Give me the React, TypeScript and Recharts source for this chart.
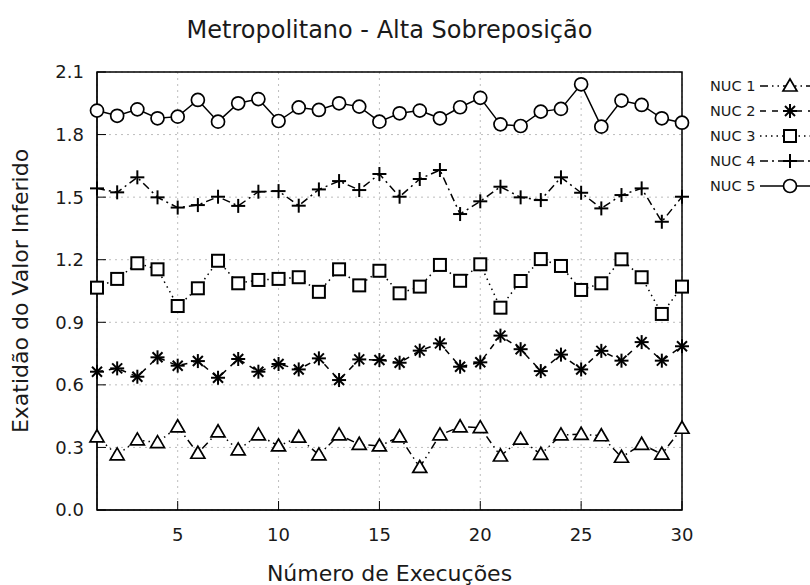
import { CartesianGrid, Label, Legend, Line, LineChart, ReferenceArea, XAxis, YAxis } from "recharts";

const runs = [1, 2, 3, 4, 5, 6, 7, 8, 9, 10, 11, 12, 13, 14, 15, 16, 17, 18, 19, 20, 21, 22, 23, 24, 25, 26, 27, 28, 29, 30];
const xTicks = [5, 10, 15, 20, 25, 30];
const yTicks = [0, 0.3, 0.6, 0.9, 1.2, 1.5, 1.8, 2.1];

const nuc1 = [0.351, 0.264, 0.336, 0.323, 0.399, 0.272, 0.375, 0.288, 0.36, 0.307, 0.349, 0.264, 0.36, 0.315, 0.307, 0.351, 0.204, 0.36, 0.399, 0.395, 0.259, 0.34, 0.267, 0.36, 0.363, 0.356, 0.253, 0.315, 0.268, 0.392];
const nuc2 = [0.663, 0.679, 0.639, 0.732, 0.692, 0.714, 0.634, 0.724, 0.663, 0.7, 0.674, 0.727, 0.623, 0.722, 0.719, 0.706, 0.764, 0.799, 0.687, 0.708, 0.836, 0.771, 0.666, 0.745, 0.674, 0.763, 0.716, 0.805, 0.716, 0.785];
const nuc3 = [1.066, 1.108, 1.183, 1.154, 0.978, 1.063, 1.195, 1.087, 1.103, 1.108, 1.116, 1.046, 1.154, 1.077, 1.147, 1.039, 1.071, 1.175, 1.099, 1.178, 0.97, 1.098, 1.203, 1.17, 1.055, 1.087, 1.202, 1.116, 0.94, 1.071];
const nuc4 = [1.542, 1.523, 1.595, 1.499, 1.45, 1.462, 1.502, 1.458, 1.526, 1.529, 1.459, 1.537, 1.577, 1.534, 1.611, 1.502, 1.587, 1.63, 1.419, 1.48, 1.55, 1.499, 1.486, 1.595, 1.521, 1.446, 1.51, 1.542, 1.382, 1.502];
const nuc5 = [1.915, 1.89, 1.921, 1.878, 1.886, 1.966, 1.862, 1.95, 1.97, 1.865, 1.93, 1.918, 1.95, 1.934, 1.862, 1.902, 1.915, 1.878, 1.931, 1.976, 1.849, 1.841, 1.91, 1.923, 2.041, 1.838, 1.963, 1.942, 1.878, 1.857];

const series = [
  { key: "nuc1", name: "NUC 1", values: nuc1, shape: "triangle", dash: "8 4 1.5 4 1.5 4" },
  { key: "nuc2", name: "NUC 2", values: nuc2, shape: "star", dash: "6 6" },
  { key: "nuc3", name: "NUC 3", values: nuc3, shape: "square", dash: "1.5 4" },
  { key: "nuc4", name: "NUC 4", values: nuc4, shape: "plus", dash: "8 4 2 4" },
  { key: "nuc5", name: "NUC 5", values: nuc5, shape: "circle", dash: undefined },
];

const rows = runs.map((run, i) => {
  const row: Record<string, number> = { run };
  series.forEach((s) => (row[s.key] = s.values[i]));
  return row;
});

const font = "'DejaVu Sans', sans-serif";
const ink = "#1a1a1a";

function Mark({ shape, cx, cy }: { shape: string; cx: number; cy: number }) {
  const open = { fill: "#fff", stroke: "#000", strokeWidth: 1.7 };
  if (shape === "triangle")
    return <polygon points={`${cx},${cy - 7} ${cx - 7},${cy + 5} ${cx + 7},${cy + 5}`} {...open} />;
  if (shape === "square") return <rect x={cx - 6} y={cy - 6} width={12} height={12} {...open} strokeWidth={2} />;
  if (shape === "circle") return <circle cx={cx} cy={cy} r={6.5} {...open} />;
  if (shape === "plus")
    return (
      <g stroke="#000" strokeWidth={2}>
        <line x1={cx - 7} y1={cy} x2={cx + 7} y2={cy} />
        <line x1={cx} y1={cy - 7} x2={cx} y2={cy + 7} />
      </g>
    );
  return (
    <g stroke="#000" strokeWidth={2}>
      <line x1={cx - 7} y1={cy} x2={cx + 7} y2={cy} />
      <line x1={cx} y1={cy - 7} x2={cx} y2={cy + 7} />
      <line x1={cx - 5} y1={cy - 5} x2={cx + 5} y2={cy + 5} />
      <line x1={cx - 5} y1={cy + 5} x2={cx + 5} y2={cy - 5} />
    </g>
  );
}

function KeyBox() {
  return (
    <svg width={110} height={125} style={{ display: "block" }}>
      {series.map((s, i) => {
        const y = 10 + i * 25;
        return (
          <g key={s.key}>
            <text x={10} y={y + 5} fontSize={14.5} fill={ink} fontFamily={font}>
              {s.name}
            </text>
            <line x1={60} y1={y} x2={115} y2={y} stroke="#000" strokeWidth={1.5} strokeDasharray={s.dash} />
            <Mark shape={s.shape} cx={90} cy={y} />
          </g>
        );
      })}
    </svg>
  );
}

export default function App() {
  return (
    <div style={{ position: "absolute", left: 0, top: 0, width: 810, height: 585, background: "#fff", fontFamily: font }}>
      <div
        style={{
          position: "absolute",
          left: 97,
          width: 585,
          top: 18,
          textAlign: "center",
          fontSize: 24,
          lineHeight: "24px",
          color: ink,
        }}
      >
        Metropolitano - Alta Sobreposição
      </div>
      <LineChart width={810} height={585} data={rows} margin={{ top: 72, right: 128, bottom: 0, left: 0 }}>
        <CartesianGrid stroke="#bdbdbd" strokeDasharray="2 4" />
        <XAxis
          dataKey="run"
          type="number"
          domain={[1, 30]}
          ticks={xTicks}
          height={75}
          stroke="#000"
          tickSize={-9}
          tickMargin={27}
          tick={{ fill: ink, fontSize: 18, fontFamily: font }}
        >
          <Label
            content={({ viewBox }: any) => (
              <text x={viewBox.x + viewBox.width / 2} y={581} textAnchor="middle" fontSize={22} fill={ink} fontFamily={font}>
                Número de Execuções
              </text>
            )}
          />
        </XAxis>
        <YAxis
          type="number"
          domain={[0, 2.1]}
          ticks={yTicks}
          width={97}
          stroke="#000"
          tickSize={-9}
          tickMargin={22}
          tickFormatter={(v: number) => v.toFixed(1)}
          tick={{ fill: ink, fontSize: 18, fontFamily: font }}
        >
          <Label
            content={({ viewBox }: any) => {
              const cy = viewBox.y + viewBox.height / 2;
              return (
                <text x={28} y={cy} transform={`rotate(-90 28 ${cy})`} textAnchor="middle" fontSize={22} fill={ink} fontFamily={font}>
                  Exatidão do Valor Inferido
                </text>
              );
            }}
          />
        </YAxis>
        <ReferenceArea x1={1} x2={30} y1={0} y2={2.1} fill="none" stroke="#000" strokeWidth={1.5} />
        {series.map((s) => (
          <Line
            key={s.key}
            dataKey={s.key}
            name={s.name}
            type="linear"
            stroke="#000"
            strokeWidth={1.5}
            strokeDasharray={s.dash}
            isAnimationActive={false}
            dot={(p: any) => <Mark key={`${s.key}-${p.index}`} shape={s.shape} cx={p.cx} cy={p.cy} />}
            activeDot={false}
          />
        ))}
        <Legend
          layout="vertical"
          align="center"
          verticalAlign="middle"
          wrapperStyle={{ position: "absolute", left: 700, top: 76, width: 110 }}
          content={() => <KeyBox />}
        />
      </LineChart>
    </div>
  );
}
